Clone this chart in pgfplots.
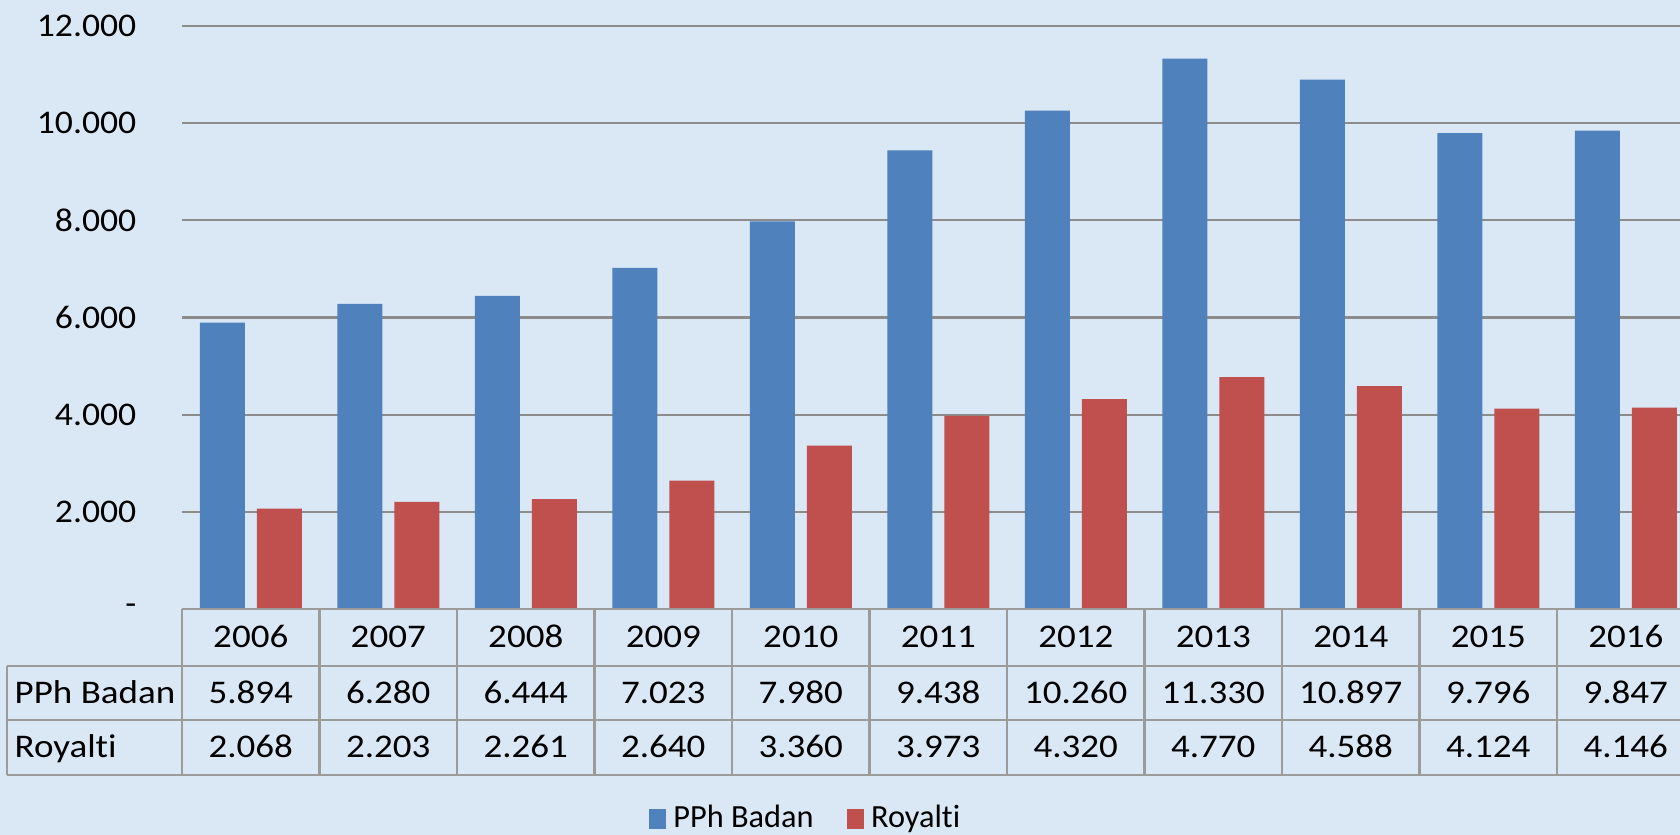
\documentclass[border=0pt]{standalone}
\usepackage{fontspec}
\setmainfont{Carlito}[FakeStretch=1.12, Ligatures=NoCommon]
\newfontfamily\legfont{Carlito}[Ligatures=NoCommon]
\newfontfamily\tickfont{Carlito}[FakeStretch=1.08]
\usepackage{pgfplots}
\pgfplotsset{compat=1.18}
\definecolor{bg}{RGB}{218,231,245}
\definecolor{cblue}{RGB}{79,129,189}
\definecolor{cred}{RGB}{192,80,77}
\definecolor{gridc}{RGB}{140,140,140}
\definecolor{tabc}{RGB}{155,155,155}
\newcommand{\fs}{\fontsize{9.4pt}{11pt}\selectfont}
\begin{document}
\begin{tikzpicture}
\path[use as bounding box] (0,0) rectangle (168mm,83.5mm);
\clip (0,0) rectangle (168mm,83.5mm);
\fill[bg] (0,0) rectangle (168mm,83.5mm);
\begin{axis}[
  at={(18.2mm,22.6mm)}, anchor=south west,
  scale only axis, width=151.25mm, height=58.3mm,
  xmin=-0.5, xmax=10.5, ymin=0, ymax=12000,
  ybar=1.2mm, bar width=4.5mm,
  xtick=\empty,
  scaled y ticks=false,
  ytick={0,2000,4000,6000,8000,10000,12000},
  yticklabels={-,2.000,4.000,6.000,8.000,10.000,12.000},
  yticklabel style={anchor=east, inner sep=0pt, xshift=-4.5mm, font=\tickfont\fs},
  /pgf/number format/assume math mode=true,
  major tick length=0pt,
  axis line style={draw=none},
  ymajorgrids, grid style={gridc, line width=0.6pt},
  clip=false,
  legend style={at={(axis description cs:0.4139,-0.36)}, anchor=center,
    draw=none, fill=none, font=\legfont\fontsize{9.2pt}{11pt}\selectfont, legend columns=-1,
    /tikz/every even column/.append style={column sep=2.6mm},
    inner sep=0pt},
  legend image code/.code={\fill[#1,draw=none] (0mm,-1mm) rectangle (1.75mm,1mm);},
]
\addplot[fill=cblue, draw=none] coordinates {
(0,5894) (1,6280) (2,6444) (3,7023) (4,7980) (5,9438) (6,10260) (7,11330) (8,10897) (9,9796) (10,9847)};
\addplot[fill=cred, draw=none] coordinates {
(0,2068) (1,2203) (2,2261) (3,2640) (4,3360) (5,3973) (6,4320) (7,4770) (8,4588) (9,4124) (10,4146)};
\legend{PPh Badan, Royalti}
% table grid
\draw[tabc, line width=0.6pt] (axis cs:-0.5,0) -- (axis cs:10.5,0);
\draw[tabc, line width=0.6pt] (axis cs:-1.7727,-1173) -- (axis cs:10.5,-1173);
\draw[tabc, line width=0.6pt] (axis cs:-1.7727,-2285) -- (axis cs:10.5,-2285);
\draw[tabc, line width=0.6pt] (axis cs:-1.7727,-3417) -- (axis cs:10.5,-3417);
\draw[tabc, line width=0.6pt] (axis cs:-1.7727,-1173) -- (axis cs:-1.7727,-3417);
\pgfplotsinvokeforeach{-0.5,0.5,1.5,2.5,3.5,4.5,5.5,6.5,7.5,8.5,9.5}{
  \draw[tabc, line width=0.6pt] (axis cs:#1,0) -- (axis cs:#1,-3417);
}
\node[anchor=base west, inner sep=0pt, font=\fs] at (axis cs:-1.7218,-1945) {PPh Badan};
\node[anchor=base west, inner sep=0pt, font=\fs] at (axis cs:-1.7218,-3067) {Royalti};
\node[anchor=base, inner sep=0pt, font=\fs] at (axis cs:0,-792) {2006};
\node[anchor=base, inner sep=0pt, font=\fs] at (axis cs:1,-792) {2007};
\node[anchor=base, inner sep=0pt, font=\fs] at (axis cs:2,-792) {2008};
\node[anchor=base, inner sep=0pt, font=\fs] at (axis cs:3,-792) {2009};
\node[anchor=base, inner sep=0pt, font=\fs] at (axis cs:4,-792) {2010};
\node[anchor=base, inner sep=0pt, font=\fs] at (axis cs:5,-792) {2011};
\node[anchor=base, inner sep=0pt, font=\fs] at (axis cs:6,-792) {2012};
\node[anchor=base, inner sep=0pt, font=\fs] at (axis cs:7,-792) {2013};
\node[anchor=base, inner sep=0pt, font=\fs] at (axis cs:8,-792) {2014};
\node[anchor=base, inner sep=0pt, font=\fs] at (axis cs:9,-792) {2015};
\node[anchor=base, inner sep=0pt, font=\fs] at (axis cs:10,-792) {2016};
\node[anchor=base, inner sep=0pt, font=\fs] at (axis cs:0,-1945) {5.894};
\node[anchor=base, inner sep=0pt, font=\fs] at (axis cs:1,-1945) {6.280};
\node[anchor=base, inner sep=0pt, font=\fs] at (axis cs:2,-1945) {6.444};
\node[anchor=base, inner sep=0pt, font=\fs] at (axis cs:3,-1945) {7.023};
\node[anchor=base, inner sep=0pt, font=\fs] at (axis cs:4,-1945) {7.980};
\node[anchor=base, inner sep=0pt, font=\fs] at (axis cs:5,-1945) {9.438};
\node[anchor=base, inner sep=0pt, font=\fs] at (axis cs:6,-1945) {10.260};
\node[anchor=base, inner sep=0pt, font=\fs] at (axis cs:7,-1945) {11.330};
\node[anchor=base, inner sep=0pt, font=\fs] at (axis cs:8,-1945) {10.897};
\node[anchor=base, inner sep=0pt, font=\fs] at (axis cs:9,-1945) {9.796};
\node[anchor=base, inner sep=0pt, font=\fs] at (axis cs:10,-1945) {9.847};
\node[anchor=base, inner sep=0pt, font=\fs] at (axis cs:0,-3067) {2.068};
\node[anchor=base, inner sep=0pt, font=\fs] at (axis cs:1,-3067) {2.203};
\node[anchor=base, inner sep=0pt, font=\fs] at (axis cs:2,-3067) {2.261};
\node[anchor=base, inner sep=0pt, font=\fs] at (axis cs:3,-3067) {2.640};
\node[anchor=base, inner sep=0pt, font=\fs] at (axis cs:4,-3067) {3.360};
\node[anchor=base, inner sep=0pt, font=\fs] at (axis cs:5,-3067) {3.973};
\node[anchor=base, inner sep=0pt, font=\fs] at (axis cs:6,-3067) {4.320};
\node[anchor=base, inner sep=0pt, font=\fs] at (axis cs:7,-3067) {4.770};
\node[anchor=base, inner sep=0pt, font=\fs] at (axis cs:8,-3067) {4.588};
\node[anchor=base, inner sep=0pt, font=\fs] at (axis cs:9,-3067) {4.124};
\node[anchor=base, inner sep=0pt, font=\fs] at (axis cs:10,-3067) {4.146};
\end{axis}
\end{tikzpicture}
\end{document}
